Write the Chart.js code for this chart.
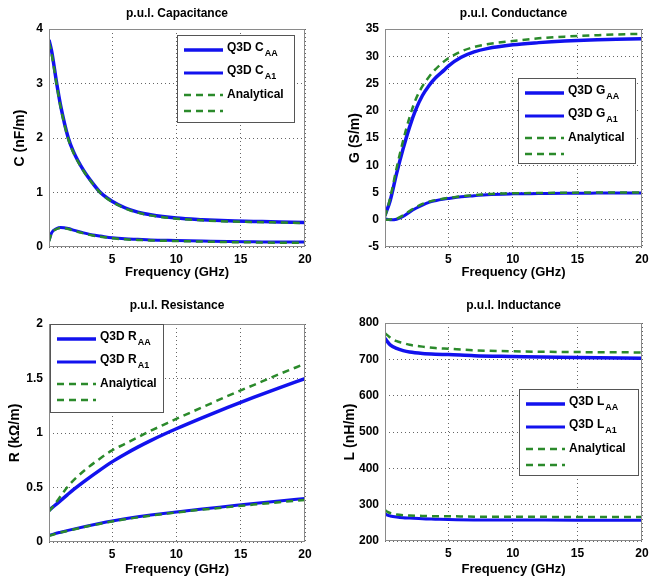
<!DOCTYPE html>
<html>
<head>
<meta charset="utf-8">
<title>p.u.l. parameters</title>
<script src="https://cdn.jsdelivr.net/npm/chart.js@4.4.1/dist/chart.umd.min.js"></script>
<style>
  body { margin: 0; background: #fff; }
  .panel { position: absolute; }
</style>
</head>
<body>
<div class="panel" style="left:0;top:0"><canvas id="capChart" width="335" height="290"></canvas></div>
<div class="panel" style="left:335px;top:0"><canvas id="condChart" width="336" height="290"></canvas></div>
<div class="panel" style="left:0;top:290px"><canvas id="resChart" width="335" height="293"></canvas></div>
<div class="panel" style="left:335px;top:290px"><canvas id="indChart" width="336" height="293"></canvas></div>
<script>
// frequency axis ticks (GHz), same for all panels
const xTicks = [5, 10, 15, 20];

// p.u.l. Capacitance, C (nF/m)
const capFreq = [0.1, 0.3, 0.7, 1, 1.6, 2, 2.8, 3.5, 4.1, 5, 6, 7, 8, 10, 12, 14, 16, 18, 20];
const capAAQ3D = [3.8, 3.6, 3.0, 2.6, 2.0, 1.75, 1.4, 1.17, 1.0, 0.84, 0.72, 0.64, 0.59, 0.53, 0.5, 0.48, 0.47, 0.46, 0.45];
const capA1Q3D = [0.12, 0.26, 0.34, 0.36, 0.34, 0.31, 0.26, 0.22, 0.2, 0.17, 0.15, 0.14, 0.13, 0.12, 0.11, 0.1, 0.095, 0.09, 0.09];
const capAAAnalytical = [3.75, 3.55, 2.97, 2.57, 1.98, 1.73, 1.39, 1.16, 0.99, 0.83, 0.71, 0.63, 0.58, 0.52, 0.49, 0.47, 0.46, 0.45, 0.44];
const capA1Analytical = [0.1, 0.25, 0.33, 0.35, 0.33, 0.3, 0.25, 0.21, 0.19, 0.16, 0.14, 0.13, 0.12, 0.11, 0.1, 0.09, 0.085, 0.08, 0.08];
const capTicks = [0, 1, 2, 3, 4];

// p.u.l. Conductance, G (S/m)
const condFreq = [0.1, 0.5, 1, 1.5, 2, 2.5, 3, 3.5, 4, 4.7, 5, 6, 7, 8, 10, 12, 14, 16, 18, 20];
const condAAQ3D = [0.8, 3.5, 8.5, 13, 17, 20.3, 22.8, 24.6, 26, 27.5, 28.2, 29.8, 30.8, 31.4, 32.1, 32.5, 32.8, 33, 33.1, 33.2];
const condA1Q3D = [0.2, 0, 0.1, 0.6, 1.4, 2.1, 2.7, 3.2, 3.5, 3.8, 3.9, 4.2, 4.4, 4.6, 4.75, 4.8, 4.85, 4.88, 4.9, 4.9];
const condAAAnalytical = [0.5, 4, 9.5, 14.5, 18.8, 22.2, 24.5, 26.2, 27.6, 29.1, 29.6, 30.9, 31.7, 32.2, 32.8, 33.3, 33.6, 33.8, 34, 34.1];
const condA1Analytical = [0, 0.05, 0.2, 0.8, 1.6, 2.3, 2.9, 3.3, 3.6, 3.9, 4, 4.3, 4.5, 4.7, 4.85, 4.9, 4.95, 5, 5, 5];
const condTicks = [-5, 0, 5, 10, 15, 20, 25, 30, 35];

// p.u.l. Resistance, R (kΩ/m)
const resFreq = [0.1, 0.5, 1, 1.5, 2, 3, 4, 5, 6, 7, 8, 9, 10, 12, 14, 16, 18, 20];
const resAAQ3D = [0.29, 0.33, 0.38, 0.43, 0.48, 0.57, 0.655, 0.735, 0.805, 0.87, 0.93, 0.986, 1.039, 1.139, 1.235, 1.327, 1.415, 1.499];
const resA1Q3D = [0.06, 0.075, 0.09, 0.104, 0.118, 0.145, 0.17, 0.193, 0.213, 0.231, 0.247, 0.262, 0.276, 0.303, 0.328, 0.353, 0.377, 0.4];
const resAAAnalytical = [0.28, 0.34, 0.42, 0.5, 0.565, 0.67, 0.76, 0.84, 0.9, 0.96, 1.02, 1.075, 1.13, 1.235, 1.34, 1.44, 1.54, 1.635];
const resA1Analytical = [0.055, 0.071, 0.087, 0.101, 0.115, 0.142, 0.166, 0.188, 0.208, 0.226, 0.242, 0.257, 0.271, 0.297, 0.32, 0.343, 0.365, 0.385];
const resTicks = [0, 0.5, 1, 1.5, 2];

// p.u.l. Inductance, L (nH/m)
const indFreq = [0.1, 0.3, 0.5, 1, 1.5, 2, 3, 4, 5, 7, 10, 15, 20];
const indAAQ3D = [758, 748, 740, 730, 724, 720, 716, 714, 713, 710, 708, 705, 703];
const indA1Q3D = [275, 271, 269, 266, 264, 263, 261, 260, 259, 258, 258, 257, 257];
const indAAAnalytical = [772, 766, 760, 750, 745, 740, 735, 731, 729, 725, 722, 720, 719];
const indA1Analytical = [285, 280, 277, 273, 271, 270, 269, 268, 268, 267, 267, 266, 266];
const indTicks = [200, 300, 400, 500, 600, 700, 800];

const FONT = '"Liberation Sans", Arial, sans-serif';
const BLUE = '#1212ee';
const GREEN = '#2b8a2b';

Chart.defaults.font.family = FONT;
Chart.defaults.color = '#000';

function toPoints(freq, vals) {
  return freq.map((f, i) => ({ x: f, y: vals[i] }));
}

// title, axes box and the MATLAB-like legend inside the plot
const panelDecor = {
  id: 'panelDecor',
  afterDraw(chart, args, opts) {
    const ctx = chart.ctx;
    const a = chart.chartArea;
    ctx.save();
    // axes box
    ctx.strokeStyle = '#8a8a8a';
    ctx.lineWidth = 1;
    ctx.strokeRect(Math.round(a.left) + 0.5, Math.round(a.top) + 0.5,
      Math.round(a.right - a.left) - 1, Math.round(a.bottom - a.top) - 1);

    // title
    ctx.fillStyle = '#000';
    ctx.font = 'bold 12px ' + FONT;
    ctx.textAlign = 'center';
    ctx.textBaseline = 'middle';
    ctx.fillText(opts.title, (a.left + a.right) / 2, opts.titleY);

    // legend
    const lg = opts.legend;
    ctx.fillStyle = '#fff';
    ctx.fillRect(lg.x, lg.y, lg.w, lg.h);
    ctx.strokeStyle = '#555';
    ctx.strokeRect(lg.x + 0.5, lg.y + 0.5, lg.w, lg.h);
    const rows = [15, 38, 60, 76];
    chart.data.datasets.forEach((ds) => {
      const y = lg.y + rows[ds.legendRow];
      ctx.beginPath();
      ctx.strokeStyle = ds.borderColor;
      ctx.lineWidth = ds.borderWidth;
      ctx.setLineDash(ds.borderDash || []);
      ctx.moveTo(lg.x + 7, y);
      ctx.lineTo(lg.x + 46, y);
      ctx.stroke();
      ctx.setLineDash([]);
      if (!ds.label) return;
      ctx.fillStyle = '#000';
      ctx.textAlign = 'left';
      ctx.font = 'bold 12px ' + FONT;
      const tx = lg.x + 50;
      if (ds.sub) {
        ctx.fillText(ds.label, tx, y - 2);
        const w = ctx.measureText(ds.label).width;
        ctx.font = 'bold 9px ' + FONT;
        ctx.fillText(ds.sub, tx + w + 1, y + 4);
      } else {
        ctx.fillText(ds.label, tx, y);
      }
    });
    ctx.restore();
  }
};

function makePanel(p) {
  const ctx = document.getElementById(p.id).getContext('2d');
  const H = ctx.canvas.height;
  return new Chart(ctx, {
    type: 'line',
    data: {
      datasets: [
        { label: 'Q3D ' + p.letter, sub: 'AA', legendRow: 0, data: toPoints(p.freq, p.aaQ3D),
          borderColor: BLUE, borderWidth: 3.5, order: 1 },
        { label: 'Q3D ' + p.letter, sub: 'A1', legendRow: 1, data: toPoints(p.freq, p.a1Q3D),
          borderColor: BLUE, borderWidth: 3, order: 1 },
        { label: 'Analytical', legendRow: 2, data: toPoints(p.freq, p.aaAn),
          borderColor: GREEN, borderWidth: 2.5, borderDash: [7, 5], order: 0 },
        { label: '', legendRow: 3, data: toPoints(p.freq, p.a1An),
          borderColor: GREEN, borderWidth: 2.5, borderDash: [7, 5], order: 0 }
      ]
    },
    options: {
      responsive: false,
      animation: false,
      parsing: false,
      elements: { point: { radius: 0 }, line: { cubicInterpolationMode: 'monotone', fill: false } },
      layout: { padding: { left: 0, top: p.top, right: p.right, bottom: 0 } },
      plugins: {
        legend: { display: false },
        tooltip: { enabled: false },
        panelDecor: { title: p.title, titleY: p.titleY, legend: p.legend }
      },
      scales: {
        x: {
          type: 'linear',
          min: 0.1,
          max: 20,
          afterBuildTicks: s => { s.ticks = xTicks.map(v => ({ value: v })); },
          afterFit: s => { s.height = H - p.bottom; },
          grid: { color: '#666', drawTicks: false },
          border: { display: false, dash: [1, 3] },
          ticks: { font: { size: 12, weight: 'bold' }, padding: 5, maxRotation: 0,
            callback: v => String(v) },
          title: { display: true, text: 'Frequency (GHz)', font: { size: 13, weight: 'bold' },
            padding: { top: 0, bottom: p.xTitlePad } }
        },
        y: {
          type: 'linear',
          min: p.yTicks[0],
          max: p.yTicks[p.yTicks.length - 1],
          afterBuildTicks: s => { s.ticks = p.yTicks.map(v => ({ value: v })); },
          afterFit: s => { s.width = p.left; },
          grid: { color: '#666', drawTicks: false },
          border: { display: false, dash: [1, 3] },
          ticks: { font: { size: 12, weight: 'bold' }, padding: 6,
            callback: v => String(v) },
          title: { display: true, text: p.yTitle, font: { size: 14, weight: 'bold' },
            padding: { top: p.yTitlePad, bottom: 0 } }
        }
      }
    },
    plugins: [panelDecor]
  });
}

makePanel({
  id: 'capChart', letter: 'C', title: 'p.u.l. Capacitance', yTitle: 'C (nF/m)',
  freq: capFreq, aaQ3D: capAAQ3D, a1Q3D: capA1Q3D, aaAn: capAAAnalytical, a1An: capA1Analytical,
  yTicks: capTicks, left: 49, right: 30, top: 29, bottom: 247, titleY: 14,
  yTitlePad: 11.6, xTitlePad: 10.2, legend: { x: 177, y: 35, w: 117, h: 87 }
});
makePanel({
  id: 'condChart', letter: 'G', title: 'p.u.l. Conductance', yTitle: 'G (S/m)',
  freq: condFreq, aaQ3D: condAAQ3D, a1Q3D: condA1Q3D, aaAn: condAAAnalytical, a1An: condA1Analytical,
  yTicks: condTicks, left: 50, right: 29, top: 29, bottom: 247, titleY: 14,
  yTitlePad: 11.6, xTitlePad: 10.2, legend: { x: 183, y: 78, w: 117, h: 85 }
});
makePanel({
  id: 'resChart', letter: 'R', title: 'p.u.l. Resistance', yTitle: 'R (kΩ/m)',
  freq: resFreq, aaQ3D: resAAQ3D, a1Q3D: resA1Q3D, aaAn: resAAAnalytical, a1An: resA1Analytical,
  yTicks: resTicks, left: 49, right: 30, top: 34, bottom: 252, titleY: 16,
  yTitlePad: 6.6, xTitlePad: 6.2, legend: { x: 50, y: 34, w: 113, h: 88 }
});
makePanel({
  id: 'indChart', letter: 'L', title: 'p.u.l. Inductance', yTitle: 'L (nH/m)',
  freq: indFreq, aaQ3D: indAAQ3D, a1Q3D: indA1Q3D, aaAn: indAAAnalytical, a1An: indA1Analytical,
  yTicks: indTicks, left: 50, right: 29, top: 33, bottom: 251, titleY: 16,
  yTitlePad: 6.6, xTitlePad: 6.2, legend: { x: 184, y: 99, w: 119, h: 86 }
});
</script>
</body>
</html>
